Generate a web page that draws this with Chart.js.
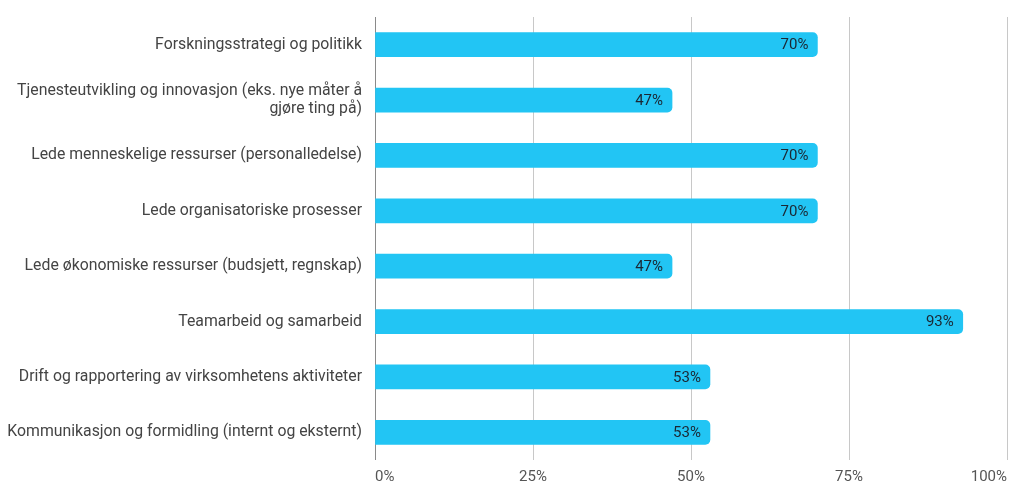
<!DOCTYPE html>
<html><head><meta charset="utf-8">
<script src="https://cdn.jsdelivr.net/npm/chart.js@4"></script>
<style>html,body{margin:0;padding:0;background:#fff}#wrap{width:1024px;height:487px}</style>
</head><body><div id="wrap"><canvas id="c" width="1024" height="487"></canvas></div>
<script>
const categories = [
  "Forskningsstrategi og politikk",
  ["Tjenesteutvikling og innovasjon (eks. nye måter å", "gjøre ting på)"],
  "Lede menneskelige ressurser (personalledelse)",
  "Lede organisatoriske prosesser",
  "Lede økonomiske ressurser (budsjett, regnskap)",
  "Teamarbeid og samarbeid",
  "Drift og rapportering av virksomhetens aktiviteter",
  "Kommunikasjon og formidling (internt og eksternt)"
];
const values = [70, 47, 70, 70, 47, 93, 53, 53];
const xTicks = [0, 25, 50, 75, 100];

const valueLabels = {
  id: 'valueLabels',
  afterDatasetsDraw(chart) {
    const ctx = chart.ctx;
    const meta = chart.getDatasetMeta(0);
    ctx.save();
    ctx.font = '15px Roboto';
    ctx.fillStyle = '#1b2733';
    ctx.textAlign = 'right';
    ctx.textBaseline = 'middle';
    meta.data.forEach((el, i) => {
      ctx.fillText(values[i] + '%', el.x - 9, el.y + 1);
    });
    ctx.restore();
  }
};

new Chart(document.getElementById('c'), {
  type: 'bar',
  data: {
    labels: categories,
    datasets: [{
      data: values,
      backgroundColor: '#22c5f4',
      borderWidth: 0,
      borderRadius: 5,
      borderSkipped: 'start',
      barThickness: 24
    }]
  },
  options: {
    indexAxis: 'y',
    responsive: false,
    animation: false,
    devicePixelRatio: 1,
    layout: { padding: { top: 17, right: 17, bottom: 0, left: 0 } },
    plugins: { legend: { display: false }, tooltip: { enabled: false } },
    scales: {
      x: {
        min: 0, max: 100,
        afterBuildTicks(scale) { scale.ticks = xTicks.map(v => ({ value: v })); },
        afterFit(scale) { scale.height = 27; scale.paddingLeft = 0; scale.paddingRight = 0; },
        border: { display: false },
        grid: {
          drawTicks: false,
          color: ctx => (ctx.tick && ctx.tick.value === 0) ? '#8a8a8a' : '#c8c8c8',
          lineWidth: 1
        },
        ticks: {
          padding: 8,
          align: 'inner',
          color: '#555',
          font: { family: 'Roboto', size: 15 },
          callback: v => v + '%'
        }
      },
      y: {
        afterFit(scale) { scale.width = 375; scale.paddingTop = 0; scale.paddingBottom = 0; },
        border: { display: false },
        grid: { display: false, drawTicks: false },
        ticks: {
          padding: 13,
          color: '#444',
          font: { family: 'Roboto', size: 15.8 }
        }
      }
    }
  },
  plugins: [valueLabels]
});
</script>
</body></html>
